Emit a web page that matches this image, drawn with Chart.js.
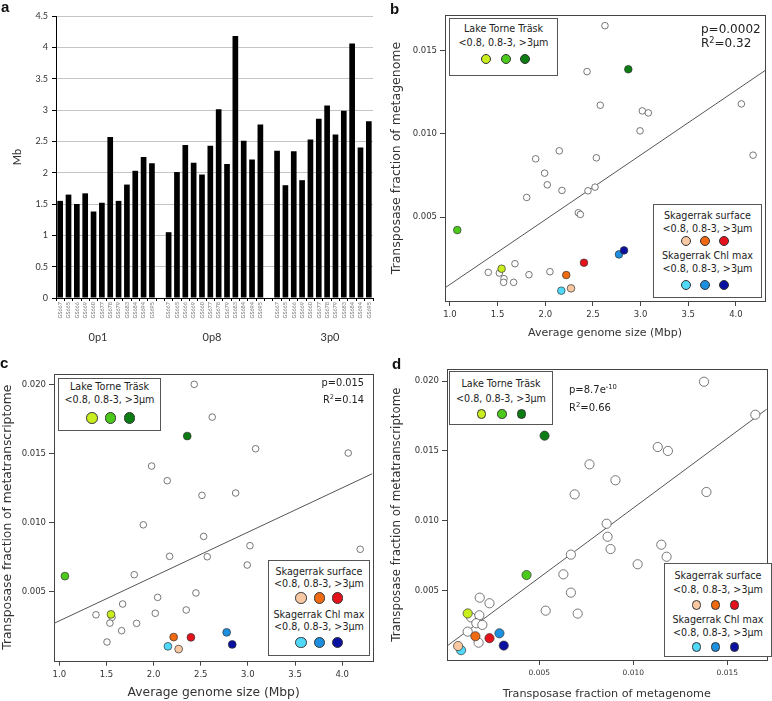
<!DOCTYPE html>
<html><head><meta charset="utf-8">
<script src="https://cdn.jsdelivr.net/npm/chart.js@4.4.1/dist/chart.umd.min.js"></script>
<style>
html,body{margin:0;padding:0;background:#fff;}
#wrap{position:relative;width:772px;height:701px;overflow:hidden;background:#fff;font-family:'DejaVu Sans',sans-serif;color:#222;}
canvas{position:absolute;}
.t{position:absolute;white-space:nowrap;line-height:1;}
.lg{position:absolute;border:1px solid #555;box-sizing:border-box;background:#fff;}
.dot{position:absolute;border-radius:50%;box-sizing:border-box;border:1px solid #333;}
.pl{position:absolute;font-weight:bold;font-family:'Liberation Sans',Arial,sans-serif;font-size:15px;line-height:1;color:#111;}
sup{font-size:0.68em;line-height:0;vertical-align:0.55em;}
</style></head><body><div id="wrap">
<canvas id="ca" width="386" height="345" style="left:0;top:0"></canvas>
<canvas id="cb" width="386" height="350" style="left:386px;top:0"></canvas>
<canvas id="cc" width="386" height="356" style="left:0;top:345px"></canvas>
<canvas id="cd" width="386" height="356" style="left:386px;top:345px"></canvas>
</div>
<script>
// ---------- Panel a data ----------
const sampleIds = ['GS667','GS665','GS666','GS669','GS660','GS677','GS678','GS679','GS683','GS684','GS694','GS695'];
const groupNames = ['0p1','0p8','3p0'];
const size0p1 = [1.55,1.65,1.50,1.67,1.38,1.52,2.57,1.55,1.81,2.03,2.25,2.15];
const size0p8 = [1.05,2.01,2.44,2.16,1.97,2.43,3.01,2.14,4.18,2.51,2.21,2.77];
const size3p0 = [2.35,1.80,2.34,1.88,2.53,2.86,3.07,2.61,2.99,4.06,2.40,2.82];
const aYTicks = [0,0.5,1,1.5,2,2.5,3,3.5,4,4.5];
const aYTickLabels = ['0','0.5','1','1.5','2','2.5','3','3.5','4','4.5'];

// ---------- colours for size fractions (<0.8, 0.8-3, >3 µm) ----------
const lakeColors = ['#c8ee1e','#4cca1c','#0b7d12'];
const surfColors = ['#f8c8a2','#f06a12','#e5121b'];
const chlColors  = ['#50d8f8','#1c8fe0','#0a10a0'];

// ---------- Panel b: genome size vs transposase fraction of metagenome ----------
const bOpenX = [2.626,2.438,2.577,3.018,3.081,4.057,2.994,4.180,1.899,2.147,2.536,1.993,2.021,2.175,1.805,2.448,2.522,2.347,2.368,1.402,1.518,1.567,1.563,1.668,1.682,1.829,2.049];
const bOpenY = [0.0165,0.01374,0.01172,0.01138,0.01126,0.0118,0.01018,0.00872,0.0085,0.00898,0.00856,0.00764,0.00694,0.0066,0.00618,0.00658,0.0068,0.00526,0.00516,0.00168,0.00164,0.0013,0.00108,0.00108,0.0022,0.00154,0.00172];
const bLakeX = [1.542,1.077,2.871], bLakeY = [0.0019,0.00422,0.01388];
const bSurfX = [2.270,2.220,2.406], bSurfY = [0.00072,0.00152,0.00226];
const bChlX  = [2.168,2.773,2.826], bChlY  = [0.00058,0.00276,0.0030];
const bFitX = [0.95,4.31], bFitY = [0.00076,0.01382];
const bXTicks = [1.0,1.5,2.0,2.5,3.0,3.5,4.0];
const bYTicks = [0.005,0.010,0.015];

// ---------- Panel c: genome size vs transposase fraction of metatranscriptome ----------
const cOpenX = [2.431,2.622,3.082,4.064,1.979,2.145,2.513,2.870,1.891,2.531,3.022,4.191,2.170,2.569,2.993,1.795,2.449,2.043,1.672,1.389,1.559,2.018,2.346,1.537,1.820,1.661,1.506];
const cOpenY = [0.0200,0.01763,0.01534,0.01503,0.01409,0.01303,0.01197,0.01214,0.00984,0.0090,0.00833,0.00807,0.00756,0.00753,0.00693,0.00623,0.00491,0.00459,0.00411,0.00333,0.00315,0.00344,0.00368,0.00273,0.00271,0.00218,0.00136];
const cLakeX = [1.548,1.060,2.357], cLakeY = [0.00336,0.00613,0.01626];
const cSurfX = [2.266,2.213,2.396], cSurfY = [0.00085,0.00172,0.0017];
const cChlX  = [2.152,2.775,2.834], cChlY  = [0.00105,0.00206,0.00119];
const cFitX = [0.944,4.318], cFitY = [0.00271,0.01353];
const cXTicks = [1.0,1.5,2.0,2.5,3.0,3.5,4.0];
const cYTicks = [0.005,0.010,0.015,0.020];

// ---------- Panel d: metagenome vs metatranscriptome transposase fraction ----------
const dOpenX = [0.01376,0.01649,0.0113,0.01184,0.00767,0.00905,0.00688,0.01389,0.00858,0.00863,0.00879,0.01149,0.01177,0.01023,0.00668,0.00628,0.00668,0.00534,0.00704,0.00183,0.00235,0.00137,0.00181,0.00165,0.00197,0.00119,0.00177];
const dOpenY = [0.01995,0.01759,0.01528,0.0150,0.01404,0.0129,0.01189,0.01206,0.00979,0.00886,0.00798,0.00829,0.00743,0.00689,0.00758,0.00617,0.00486,0.00357,0.00336,0.0045,0.0041,0.00309,0.00324,0.00267,0.00255,0.00207,0.00128];
const dLakeX = [0.00119,0.00432,0.00528], dLakeY = [0.00337,0.00612,0.01609];
const dSurfX = [0.00068,0.0016,0.00235], dSurfY = [0.00104,0.00174,0.0016];
const dChlX  = [0.00084,0.00288,0.00311], dChlY  = [0.00074,0.00195,0.00107];
const dFitX = [0.00009,0.0172], dFitY = [0.00104,0.01809];
const dXTicks = [0.005,0.010,0.015];
const dYTicks = [0.005,0.010,0.015,0.020];

const pts = (xs, ys) => xs.map((x, i) => ({x, y: ys[i]}));
const wrap = document.getElementById('wrap');

// ---------- Panel a ----------
const aLabels = [...sampleIds, '', ...sampleIds, '', ...sampleIds];
const aData = [...size0p1, null, ...size0p8, null, ...size3p0];
new Chart(document.getElementById('ca'), {
  type: 'bar',
  data: { labels: aLabels, datasets: [{ data: aData, backgroundColor: '#000', barPercentage: 0.68, categoryPercentage: 1 }] },
  options: {
    responsive: false, animation: false, devicePixelRatio: 1,
    layout: { padding: { top: 16, right: 13, left: 0, bottom: 0 } },
    plugins: { legend: { display: false }, tooltip: { enabled: false } },
    scales: {
      x: {
        grid: { display: true, drawOnChartArea: false, drawTicks: true, tickLength: 3, color: '#000', tickColor: '#000' },
        border: { display: true, color: '#000', width: 1 },
        ticks: { autoSkip: false, minRotation: 90, maxRotation: 90, font: { size: 5.5, family: 'Lato' }, color: '#777', padding: 1 },
        afterFit(s) { s.height = 47; }
      },
      y: {
        min: 0, max: 4.5,
        afterBuildTicks(s) { s.ticks = aYTicks.map(v => ({ value: v })); },
        ticks: { callback: (v, i) => aYTickLabels[aYTicks.indexOf(v)], font: { size: 9, family: 'Lato' }, color: '#333', padding: 4 },
        grid: { color: '#c4c4c4', tickColor: '#000', tickLength: 4 },
        border: { color: '#000' },
        title: { display: true, text: 'Mb', font: { size: 11, family: 'Lato' }, color: '#333', padding: { top: 11, bottom: 0 } },
        afterFit(s) { s.width = 56; }
      }
    }
  }
});

// ---------- scatter helper ----------
const boxPlugin = { id: 'box', beforeDatasetsDraw(chart) {
  const a = chart.chartArea, c = chart.ctx; c.save(); c.strokeStyle = '#444'; c.lineWidth = 1;
  c.strokeRect(Math.round(a.left) + 0.5, Math.round(a.top) + 0.5, Math.round(a.right - a.left), Math.round(a.bottom - a.top)); c.restore(); } };

function scatter(id, o) {
  const colored = (xs, ys, cols) => ({ data: pts(xs, ys), backgroundColor: cols, borderColor: '#333', borderWidth: 0.7, pointRadius: o.rc, order: 1 });
  new Chart(document.getElementById(id), {
    type: 'scatter',
    data: { datasets: [
      colored(o.lake[0], o.lake[1], lakeColors),
      colored(o.surf[0], o.surf[1], surfColors),
      colored(o.chl[0], o.chl[1], chlColors),
      { data: pts(o.openX, o.openY), backgroundColor: '#fff', borderColor: '#555', borderWidth: 0.8, pointRadius: o.ro, order: 4 },
      { data: pts(o.fitX, o.fitY), showLine: true, borderColor: '#555', borderWidth: 1, pointRadius: 0, order: 6 }
    ] },
    plugins: [boxPlugin],
    options: {
      responsive: false, animation: false, devicePixelRatio: 1,
      layout: { padding: { top: o.top, right: o.right, left: 0, bottom: 0 } },
      plugins: { legend: { display: false }, tooltip: { enabled: false } },
      scales: {
        x: {
          type: 'linear', min: o.xMin, max: o.xMax,
          afterBuildTicks(s) { s.ticks = o.xTicks.map(v => ({ value: v })); },
          ticks: { callback: v => v.toFixed(o.xDec), font: { size: o.xtf, family: 'DejaVu Sans' }, color: '#333', padding: 4 },
          grid: { display: true, drawOnChartArea: false, drawTicks: true, tickLength: 5, tickColor: '#444' },
          border: { display: false },
          title: { display: true, text: o.xTitle, font: { size: o.xTitleSize, family: 'DejaVu Sans' }, color: '#333', padding: { top: 0, bottom: o.xTitlePad } },
          afterFit(s) { s.height = o.xH; }
        },
        y: {
          type: 'linear', min: o.yMin, max: o.yMax,
          afterBuildTicks(s) { s.ticks = o.yTicks.map(v => ({ value: v })); },
          ticks: { callback: v => v.toFixed(3), font: { size: 8.5, family: 'DejaVu Sans' }, color: '#333', padding: 3 },
          grid: { display: true, drawOnChartArea: false, drawTicks: true, tickLength: 5, tickColor: '#444' },
          border: { display: false },
          title: { display: true, text: o.yTitle, font: { size: o.yTitleSize, family: 'DejaVu Sans' }, color: '#333', padding: { top: o.yTitlePad, bottom: 0 } },
          afterFit(s) { s.width = o.yW; }
        }
      }
    }
  });
}

scatter('cb', { openX: bOpenX, openY: bOpenY, lake: [bLakeX, bLakeY], surf: [bSurfX, bSurfY], chl: [bChlX, bChlY], fitX: bFitX, fitY: bFitY,
  xMin: 0.948, xMax: 4.305, yMin: -0.00004, yMax: 0.01714, xTicks: bXTicks, yTicks: bYTicks, xDec: 1, xtf: 8.5,
  top: 15, right: 7, yW: 59, xH: 49, ro: 3.3, rc: 3.8,
  xTitle: 'Average genome size (Mbp)', xTitleSize: 11, xTitlePad: 10,
  yTitle: 'Transposase fraction of metagenome', yTitleSize: 12.5, yTitlePad: 3.5 });

scatter('cc', { openX: cOpenX, openY: cOpenY, lake: [cLakeX, cLakeY], surf: [cSurfX, cSurfY], chl: [cChlX, cChlY], fitX: cFitX, fitY: cFitY,
  xMin: 0.944, xMax: 4.33, yMin: 0.00001, yMax: 0.02077, xTicks: cXTicks, yTicks: cYTicks, xDec: 1, xtf: 8.5,
  top: 28.7, right: 12.7, yW: 54, xH: 40.3, ro: 3.3, rc: 3.9,
  xTitle: 'Average genome size (Mbp)', xTitleSize: 12.3, xTitlePad: 0.5,
  yTitle: 'Transposase fraction of metatranscriptome', yTitleSize: 12.3, yTitlePad: 0 });

scatter('cd', { openX: dOpenX, openY: dOpenY, lake: [dLakeX, dLakeY], surf: [dSurfX, dSurfY], chl: [dChlX, dChlY], fitX: dFitX, fitY: dFitY,
  xMin: 0.00009, xMax: 0.01709, yMin: 0.00004, yMax: 0.02084, xTicks: dXTicks, yTicks: dYTicks, xDec: 3, xtf: 7.5,
  top: 24.3, right: 2, yW: 61, xH: 41, ro: 4.6, rc: 4.6,
  xTitle: 'Transposase fraction of metagenome', xTitleSize: 11.2, xTitlePad: 0,
  yTitle: 'Transposase fraction of metatranscriptome', yTitleSize: 11.8, yTitlePad: 4 });

// ---------- HTML text & legends ----------
function addEl(cls, style, html) { const d = document.createElement('div'); d.className = cls; Object.assign(d.style, style); if (html != null) d.innerHTML = html; wrap.appendChild(d); return d; }
function text(x, y, html, size, align = 'center', extra = {}) {
  const tx = align === 'center' ? '-50%' : (align === 'right' ? '-100%' : '0');
  return addEl('t', { left: x + 'px', top: y + 'px', fontSize: size + 'px', transform: `translate(${tx},-50%)`, ...extra }, html);
}
function legendBox(b, rows, fs) {
  addEl('lg', { left: b.x + 'px', top: b.y + 'px', width: b.w + 'px', height: b.h + 'px' });
  const cx = b.x + b.w / 2;
  rows.forEach(row => {
    if (row.text) text(cx, row.y, row.text, fs, 'center', { color: '#222' });
    else row.colors.forEach((c, i) => addEl('dot', { left: (b.dx[i] - b.r) + 'px', top: (row.y - b.r) + 'px', width: 2 * b.r + 'px', height: 2 * b.r + 'px', background: c }));
  });
}
const lakeTitle = 'Lake Torne Träsk', fracText = '&lt;0.8, 0.8-3, &gt;3μm', surfTitle = 'Skagerrak surface', chlTitle = 'Skagerrak Chl max';

// panel labels
addEl('pl', { left: '1px', top: '-1px' }, 'a');
addEl('pl', { left: '390px', top: '1px' }, 'b');
addEl('pl', { left: '0px', top: '355px' }, 'c');
addEl('pl', { left: '392px', top: '356px' }, 'd');

// panel a group labels
[98, 212, 330].forEach((x, i) => text(x, 336, groupNames[i], 11, 'center', { fontFamily: 'Lato', color: '#333' }));

const LF = 9.6;
// panel b
legendBox({ x: 449, y: 18, w: 109, h: 58, dx: [486, 506, 525], r: 5 }, [{ y: 29, text: lakeTitle }, { y: 43, text: fracText }, { y: 59, colors: lakeColors }], LF);
legendBox({ x: 653, y: 204, w: 109, h: 94, dx: [686, 705, 724], r: 5 }, [{ y: 216, text: surfTitle }, { y: 228.5, text: fracText }, { y: 241, colors: surfColors }, { y: 256, text: chlTitle }, { y: 268.5, text: fracText }, { y: 285, colors: chlColors }], LF);
text(701, 29, 'p=0.0002', 12, 'left', { color: '#222' });
text(701, 43, 'R<sup>2</sup>=0.32', 12, 'left', { color: '#222' });

// panel c
legendBox({ x: 58, y: 378, w: 103, h: 53, dx: [92, 110.7, 129.3], r: 5.8 }, [{ y: 387, text: lakeTitle }, { y: 400, text: fracText }, { y: 418, colors: lakeColors }], LF);
legendBox({ x: 268, y: 560, w: 102, h: 96, dx: [301, 319.3, 337.7], r: 5.8 }, [{ y: 572, text: surfTitle }, { y: 583.5, text: fracText }, { y: 598, colors: surfColors }, { y: 615, text: chlTitle }, { y: 627, text: fracText }, { y: 642.5, colors: chlColors }], LF);
text(364, 382.5, 'p=0.015', 9.8, 'right', { color: '#222' });
text(364, 400, 'R<sup>2</sup>=0.14', 9.8, 'right', { color: '#222' });

// panel d
legendBox({ x: 449, y: 371, w: 104, h: 54, dx: [481.7, 502, 521.3], r: 4.7 }, [{ y: 383.5, text: lakeTitle }, { y: 398.5, text: fracText }, { y: 414, colors: lakeColors }], LF);
legendBox({ x: 664, y: 563, w: 108, h: 94, dx: [696.7, 715.3, 734.3], r: 4.7 }, [{ y: 576, text: surfTitle }, { y: 590, text: fracText }, { y: 605, colors: surfColors }, { y: 619.5, text: chlTitle }, { y: 633, text: fracText }, { y: 647, colors: chlColors }], LF);
text(569, 390, 'p=8.7e<sup>-10</sup>', 10, 'left', { color: '#222' });
text(569, 408, 'R<sup>2</sup>=0.66', 10, 'left', { color: '#222' });
</script></body></html>
